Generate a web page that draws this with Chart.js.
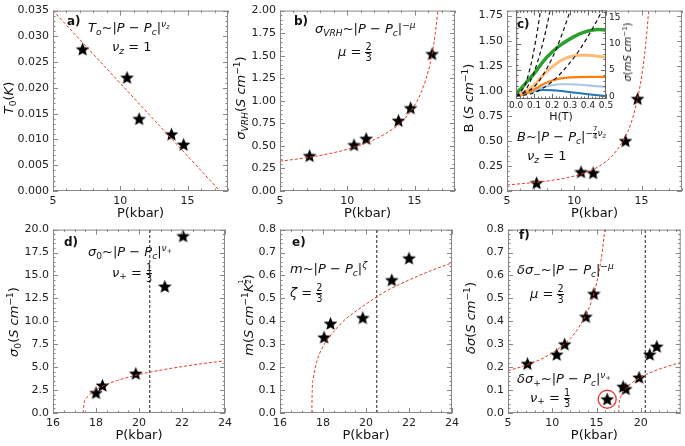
<!DOCTYPE html>
<html>
<head>
<meta charset="utf-8">
<script src="https://cdn.jsdelivr.net/npm/chart.js@4.4.1/dist/chart.umd.min.js"></script>
<style>
  body { margin: 0; background: #fff; width: 685px; height: 446px; position: relative; overflow: hidden; font-family: "DejaVu Sans", sans-serif; }
  canvas { position: absolute; }
  .m { position: absolute; white-space: nowrap; font-size: 13px; line-height: 1; color: #111; }
  .m sub, .m sup { font-size: 70%; line-height: 0; position: relative; vertical-align: baseline; }
  .m sup { top: -0.55em; }
  .m sub { top: 0.3em; }
  .fr { display: inline-flex; flex-direction: column; vertical-align: middle; font-size: 75%; line-height: 1; text-align: center; font-style: normal; }
  .fr span:first-child { border-bottom: 1px solid #111; }
  .lab { font-weight: bold; font-size: 12px; }
  .yt { transform: translate(-50%, -50%) rotate(-90deg); }
</style>
</head>
<body>
<canvas id="ca" width="236" height="222" style="left:0;top:0"></canvas>
<canvas id="cb" width="236" height="222" style="left:227px;top:0"></canvas>
<canvas id="cc" width="236" height="222" style="left:454px;top:0"></canvas>
<canvas id="cd" width="236" height="225" style="left:0;top:219px"></canvas>
<canvas id="ce" width="236" height="225" style="left:227px;top:219px"></canvas>
<canvas id="cf" width="236" height="225" style="left:455px;top:219px"></canvas>
<canvas id="ci" width="128" height="122" style="left:508px;top:2px"></canvas>

<!-- axis titles -->
<div class="m yt" style="left:8px;top:98px"><i>T</i><sub>0</sub>(<i>K</i>)</div>
<div class="m yt" style="left:240px;top:98px"><i>σ<sub>VRH</sub></i>(<i>S cm</i><sup>−1</sup>)</div>
<div class="m yt" style="left:468px;top:98px">B (<i>S cm</i><sup>−1</sup>)</div>
<div class="m yt" style="left:13px;top:322px"><i>σ</i><sub>0</sub>(<i>S cm</i><sup>−1</sup>)</div>
<div class="m yt" style="left:250px;top:315px"><i>m</i>(<i>S cm</i><sup>−1</sup><i>K</i><sup><span class="fr"><span>1</span><span>2</span></span></sup>)</div>
<div class="m yt" style="left:470px;top:318px"><i>δσ</i>(<i>S cm</i><sup>−1</sup>)</div>
<div class="m yt" style="left:628px;top:52px;font-size:10px"><i>σ</i>(<i>mS cm</i><sup>−1</sup>)</div>

<!-- annotations -->
<div class="m lab" style="left:67px;top:15px">a)</div>
<div class="m" style="left:88px;top:21px"><i>T<sub>o</sub></i>~|<i>P</i> − <i>P<sub>c</sub></i>|<sup><i>ν<sub>z</sub></i></sup></div>
<div class="m" style="left:112px;top:40px"><i>ν<sub>z</sub></i> = 1</div>

<div class="m lab" style="left:294px;top:15px">b)</div>
<div class="m" style="left:315px;top:22px"><i>σ<sub>VRH</sub></i>~|<i>P</i> − <i>P<sub>c</sub></i>|<sup>−<i>μ</i></sup></div>
<div class="m" style="left:338px;top:42px"><i>μ</i> = <span class="fr"><span>2</span><span>3</span></span></div>

<div class="m lab" style="left:517px;top:18px">c)</div>
<div class="m" style="left:517px;top:130px"><i>B</i>~|<i>P</i> − <i>P<sub>c</sub></i>|<sup>−<span class="fr"><span>7</span><span>4</span></span><i>ν<sub>z</sub></i></sup></div>
<div class="m" style="left:527px;top:149px"><i>ν<sub>z</sub></i> = 1</div>

<div class="m lab" style="left:64px;top:236px">d)</div>
<div class="m" style="left:88px;top:245px"><i>σ</i><sub>0</sub>~|<i>P</i> − <i>P<sub>c</sub></i>|<sup><i>ν</i><sub>+</sub></sup></div>
<div class="m" style="left:112px;top:263px"><i>ν</i><sub>+</sub> = <span class="fr"><span>1</span><span>3</span></span></div>

<div class="m lab" style="left:292px;top:236px">e)</div>
<div class="m" style="left:290px;top:262px"><i>m</i>~|<i>P</i> − <i>P<sub>c</sub></i>|<sup><i>ζ</i></sup></div>
<div class="m" style="left:290px;top:283px"><i>ζ</i> = <span class="fr"><span>2</span><span>3</span></span></div>

<div class="m lab" style="left:519px;top:229px">f)</div>
<div class="m" style="left:517px;top:263px"><i>δσ</i><sub>−</sub>~|<i>P</i> − <i>P<sub>c</sub></i>|<sup>−<i>μ</i></sup></div>
<div class="m" style="left:530px;top:284px"><i>μ</i> = <span class="fr"><span>2</span><span>3</span></span></div>
<div class="m" style="left:517px;top:372px"><i>δσ</i><sub>+</sub>~|<i>P</i> − <i>P<sub>c</sub></i>|<sup><i>ν</i><sub>+</sub></sup></div>
<div class="m" style="left:530px;top:388px"><i>ν</i><sub>+</sub> = <span class="fr"><span>1</span><span>3</span></span></div>

<script>
// --- data ---

// a) T0 vs P
const P_A = [7.2, 10.5, 11.4, 13.8, 14.7];
const T0 = [0.0275, 0.022, 0.014, 0.011, 0.009];
const FIT_A_P = [5, 17.4];
const FIT_A = [0.035, 0];

// b) sigma_VRH vs P
const P_B = [7.2, 10.5, 11.4, 13.8, 14.7, 16.3];
const SIG_VRH = [0.39, 0.51, 0.58, 0.78, 0.92, 1.52];
const FIT_B_P = [5, 7, 9, 11, 12, 13, 14, 15, 15.5, 16, 16.3, 16.5, 16.7, 16.8];
const FIT_B = [0.33, 0.37, 0.425, 0.51, 0.57, 0.65, 0.76, 0.95, 1.1, 1.32, 1.52, 1.71, 1.96, 2.12];

// c) B vs P
const P_C = [7.2, 10.5, 11.4, 13.8, 14.7];
const B_VAL = [0.08, 0.19, 0.18, 0.5, 0.92];
const FIT_C_P = [5, 7, 9, 10.5, 12, 13, 14, 14.5, 15, 15.3, 15.5, 15.7];
const FIT_C = [0.06, 0.085, 0.12, 0.17, 0.26, 0.38, 0.6, 0.81, 1.14, 1.46, 1.76, 2.1];

// inset of c) sigma(H), mS/cm
const H_GREEN = [0, 0.03, 0.06, 0.1, 0.15, 0.2, 0.25, 0.3, 0.35, 0.4, 0.45, 0.5];
const S_GREEN = [0.6, 1.6, 2.8, 4.3, 6.6, 8.4, 9.8, 10.9, 11.8, 12.4, 12.7, 12.6];
const H_LORANGE = [0, 0.05, 0.1, 0.15, 0.2, 0.25, 0.3, 0.35, 0.4, 0.45, 0.5];
const S_LORANGE = [0.2, 0.9, 2.1, 4.0, 5.6, 6.8, 7.5, 7.8, 7.8, 7.6, 7.4];
const H_ORANGE = [0, 0.05, 0.1, 0.15, 0.2, 0.25, 0.3, 0.4, 0.5];
const S_ORANGE = [0.1, 0.5, 1.3, 2.3, 3.0, 3.4, 3.6, 3.7, 3.7];
const H_LBLUE = [0, 0.05, 0.1, 0.15, 0.2, 0.25, 0.3, 0.4, 0.5];
const S_LBLUE = [0.1, 0.5, 1.1, 1.7, 2.1, 2.3, 2.3, 2.1, 1.8];
const H_BLUE = [0, 0.05, 0.1, 0.15, 0.2, 0.25, 0.3, 0.4, 0.5];
const S_BLUE = [0.1, 0.6, 1.0, 1.2, 1.15, 1.0, 0.8, 0.4, 0.05];
const H_Q1 = [0, 0.05, 0.08, 0.1, 0.12, 0.137];
const S_Q1 = [0, 2.2, 5.7, 8.9, 12.8, 16.7];
const H_Q2 = [0, 0.05, 0.1, 0.14, 0.17, 0.19];
const S_Q2 = [0, 1.1, 4.6, 9.0, 13.2, 16.5];
const H_Q3 = [0, 0.1, 0.15, 0.2, 0.25, 0.3, 0.31];
const S_Q3 = [0, 1.8, 4.1, 7.2, 11.3, 16.2, 17.3];
const H_Q4 = [0, 0.1, 0.2, 0.3, 0.35, 0.4, 0.45, 0.48];
const S_Q4 = [0, 0.7, 2.8, 6.4, 8.7, 11.4, 14.4, 16.4];

// d) sigma0 vs P
const P_D = [18.0, 18.3, 19.85, 21.2, 22.05];
const SIG0 = [2.2, 3.0, 4.3, 13.8, 19.3];
const FIT_D_P = [17.4, 17.45, 17.55, 17.7, 18, 18.5, 19, 20, 21, 22, 23, 24];
const FIT_D = [0, 1.1, 1.6, 2.0, 2.55, 3.12, 3.56, 4.2, 4.67, 5.06, 5.4, 5.7];

// e) m vs P
const P_E = [18.05, 18.35, 19.85, 21.2, 22.0];
const M_VAL = [0.33, 0.39, 0.415, 0.58, 0.675];
const FIT_E_P = [17.48, 17.5, 17.55, 17.7, 18, 18.5, 19, 20, 21, 22, 23, 24];
const FIT_E = [0, 0.1, 0.15, 0.22, 0.29, 0.355, 0.405, 0.475, 0.535, 0.58, 0.62, 0.655];

// f) delta sigma vs P
const P_F_MINUS = [7.2, 10.5, 11.4, 13.8, 14.7];
const DS_MINUS = [0.215, 0.255, 0.3, 0.42, 0.52];
const P_F_PLUS = [18.0, 18.3, 19.8, 21.0, 21.8];
const DS_PLUS = [0.115, 0.105, 0.155, 0.255, 0.29];
const P_F_OUT = [16.2];
const DS_OUT = [0.06];
const FIT_FM_P = [5, 7, 9, 11, 12, 13, 14, 14.5, 15, 15.5, 15.9, 16.1];
const FIT_FM = [0.185, 0.208, 0.24, 0.289, 0.324, 0.373, 0.444, 0.496, 0.566, 0.666, 0.79, 0.87];
const FIT_FP_P = [17.5, 17.55, 17.7, 18, 19, 20, 21, 22, 23, 24, 24.5];
const FIT_FP = [0, 0.042, 0.067, 0.091, 0.132, 0.156, 0.175, 0.19, 0.203, 0.215, 0.22];

const P_DASH = 20.5;

// --- helpers ---
Chart.defaults.font.family = 'DejaVu Sans';
const RED = '#e8392e';

const STAR = (function () {
    const c = document.createElement('canvas');
    c.width = c.height = 15;
    const g = c.getContext('2d');
    g.beginPath();
    for (let i = 0; i < 10; i++) {
        const r = i % 2 ? 3.2 : 7.2;
        const a = -Math.PI / 2 + i * Math.PI / 5;
        g.lineTo(7.5 + r * Math.cos(a), 8 + r * Math.sin(a));
    }
    g.closePath();
    g.fillStyle = '#000';
    g.fill();
    return c;
})();

const pts = (xs, ys) => xs.map((x, i) => ({ x: x, y: ys[i] }));

function fitLine(xs, ys) {
    return {
        data: pts(xs, ys), showLine: true, borderColor: RED, borderWidth: 1,
        borderDash: [3, 2], pointRadius: 0, cubicInterpolationMode: 'monotone', order: 0
    };
}
function stars(xs, ys) {
    return { data: pts(xs, ys), pointStyle: STAR, pointRadius: 7, order: 2 };
}
function vline(ymax) {
    return {
        data: [{ x: P_DASH, y: 0 }, { x: P_DASH, y: ymax }], showLine: true, borderColor: '#222',
        borderWidth: 1, borderDash: [3, 2], pointRadius: 0, order: 1
    };
}

// frame + inward ticks like matplotlib
const framePlugin = {
    id: 'frame',
    beforeDatasetsDraw(chart, args, opts) {
        if (!opts.fill) return;
        const a = chart.chartArea;
        chart.ctx.save();
        chart.ctx.fillStyle = '#fff';
        chart.ctx.fillRect(a.left, a.top, a.right - a.left, a.bottom - a.top);
        chart.ctx.restore();
    },
    afterDraw(chart, args, opts) {
        if (!opts.xMinor) return;
        const { ctx, chartArea: a, scales } = chart;
        const x = scales.x, y = scales.y;
        ctx.save();
        ctx.strokeStyle = opts.color || '#888';
        ctx.lineWidth = 1;
        ctx.strokeRect(a.left + 0.5, a.top + 0.5, a.right - a.left - 1, a.bottom - a.top - 1);
        ctx.beginPath();
        const minors = (s, step) => {
            const out = [];
            for (let v = Math.ceil(s.min / step - 1e-6) * step; v <= s.max + 1e-9; v += step) out.push(v);
            return out;
        };
        const markX = (v, len) => {
            const px = Math.round(x.getPixelForValue(v)) + 0.5;
            ctx.moveTo(px, a.bottom); ctx.lineTo(px, a.bottom - len);
            ctx.moveTo(px, a.top); ctx.lineTo(px, a.top + len);
        };
        const markY = (v, len) => {
            const py = Math.round(y.getPixelForValue(v)) + 0.5;
            ctx.moveTo(a.left, py); ctx.lineTo(a.left + len, py);
            ctx.moveTo(a.right, py); ctx.lineTo(a.right - len, py);
        };
        minors(x, opts.xMinor).forEach(v => markX(v, 2.5));
        minors(y, opts.yMinor).forEach(v => markY(v, 2.5));
        x.ticks.forEach(t => markX(t.value, 5));
        y.ticks.forEach(t => markY(t.value, 5));
        ctx.stroke();
        ctx.restore();
    }
};
Chart.register(framePlugin);

function xAxis(min, max, step, dec) {
    return {
        type: 'linear', min: min, max: max,
        grid: { display: false, drawTicks: false }, border: { display: false },
        ticks: {
            stepSize: step, includeBounds: false, padding: 4, color: '#222', autoSkip: false, maxRotation: 0,
            font: { size: 11 }, callback: v => v.toFixed(dec)
        },
        title: { display: true, text: 'P(kbar)', color: '#111', font: { size: 13 }, padding: { top: 0, bottom: 1 } },
        afterFit: s => { s.height = 31; }
    };
}
function yAxis(min, max, step, dec) {
    return {
        type: 'linear', min: min, max: max,
        grid: { display: false, drawTicks: false }, border: { display: false },
        ticks: {
            stepSize: step, includeBounds: false, padding: 4, color: '#222', autoSkip: false,
            font: { size: 11 }, callback: v => v.toFixed(dec)
        },
        afterFit: s => { s.width = 53; }
    };
}

function panel(id, datasets, xs, ys, minor, padTop) {
    return new Chart(document.getElementById(id), {
        type: 'scatter',
        data: { datasets: datasets },
        options: {
            responsive: false, animation: false, events: [],
            layout: { padding: { top: padTop, right: 8, left: 0, bottom: 0 } },
            plugins: { legend: { display: false }, tooltip: { enabled: false }, frame: minor },
            scales: { x: xs, y: ys }
        }
    });
}

// a)
panel('ca', [fitLine(FIT_A_P, FIT_A), stars(P_A, T0)],
    xAxis(5, 18, 5, 0), yAxis(0, 0.035, 0.005, 3), { xMinor: 1, yMinor: 0.001 }, 5);

// b)
panel('cb', [fitLine(FIT_B_P, FIT_B), stars(P_B, SIG_VRH)],
    xAxis(5, 18, 5, 0), yAxis(0, 2, 0.25, 2), { xMinor: 1, yMinor: 0.05 }, 5);

// c)
panel('cc', [fitLine(FIT_C_P, FIT_C), stars(P_C, B_VAL)],
    xAxis(5, 18, 5, 0), yAxis(0, 1.8, 0.25, 2), { xMinor: 1, yMinor: 0.05 }, 5);

// d)
panel('cd', [fitLine(FIT_D_P, FIT_D), vline(20), stars(P_D, SIG0)],
    xAxis(16, 24, 2, 0), yAxis(0, 20, 2.5, 1), { xMinor: 0.5, yMinor: 0.5 }, 8);

// e)
panel('ce', [fitLine(FIT_E_P, FIT_E), vline(0.8), stars(P_E, M_VAL)],
    xAxis(16, 24, 2, 0), yAxis(0, 0.8, 0.1, 1), { xMinor: 0.5, yMinor: 0.02 }, 8);

// f)
panel('cf', [
    fitLine(FIT_FM_P, FIT_FM), fitLine(FIT_FP_P, FIT_FP), vline(0.8),
    { data: pts(P_F_OUT, DS_OUT), pointStyle: 'circle', pointRadius: 9, borderColor: RED, borderWidth: 1.3, backgroundColor: 'rgba(0,0,0,0)', order: 1 },
    stars(P_F_MINUS, DS_MINUS), stars(P_F_PLUS, DS_PLUS), stars(P_F_OUT, DS_OUT)
], xAxis(5, 24.5, 5, 0), yAxis(0, 0.8, 0.1, 1), { xMinor: 1, yMinor: 0.02 }, 8);

// c) inset
function curve(xs, ys, color, w) {
    return { data: pts(xs, ys), showLine: true, borderColor: color, borderWidth: w, pointRadius: 0, cubicInterpolationMode: 'monotone', order: 2 };
}
function quad(xs, ys) {
    return { data: pts(xs, ys), showLine: true, borderColor: '#111', borderWidth: 1.2, borderDash: [4, 3], pointRadius: 0, cubicInterpolationMode: 'monotone', order: 0 };
}
new Chart(document.getElementById('ci'), {
    type: 'scatter',
    data: {
        datasets: [
            quad(H_Q1, S_Q1), quad(H_Q2, S_Q2), quad(H_Q3, S_Q3), quad(H_Q4, S_Q4),
            curve(H_GREEN, S_GREEN, '#2ca02c', 3.5),
            curve(H_LORANGE, S_LORANGE, '#ffbb78', 3),
            curve(H_ORANGE, S_ORANGE, '#ff7f0e', 2.2),
            curve(H_LBLUE, S_LBLUE, '#aec7e8', 2.2),
            curve(H_BLUE, S_BLUE, '#1f77b4', 2)
        ]
    },
    options: {
        responsive: false, animation: false, events: [],
        layout: { padding: { top: 5, right: 0, left: 3, bottom: 0 } },
        plugins: { legend: { display: false }, tooltip: { enabled: false }, frame: { xMinor: 0.02, yMinor: 1, fill: true, color: '#666' } },
        scales: {
            x: {
                type: 'linear', min: 0, max: 0.5,
                grid: { display: false, drawTicks: false }, border: { display: false },
                ticks: { stepSize: 0.1, includeBounds: false, padding: 1, color: '#222', font: { size: 9 }, maxRotation: 0, autoSkip: false, callback: v => v.toFixed(1) },
                title: { display: true, text: 'H(T)', color: '#111', font: { size: 11 }, padding: { top: 0, bottom: 0 } },
                afterFit: s => { s.height = 25; }
            },
            y: {
                type: 'linear', position: 'right', min: -0.5, max: 16.3,
                grid: { display: false, drawTicks: false }, border: { display: false },
                ticks: { stepSize: 5, includeBounds: false, padding: 3, color: '#222', font: { size: 9 }, autoSkip: false },
                afterFit: s => { s.width = 30; }
            }
        }
    }
});
</script>
</body>
</html>
